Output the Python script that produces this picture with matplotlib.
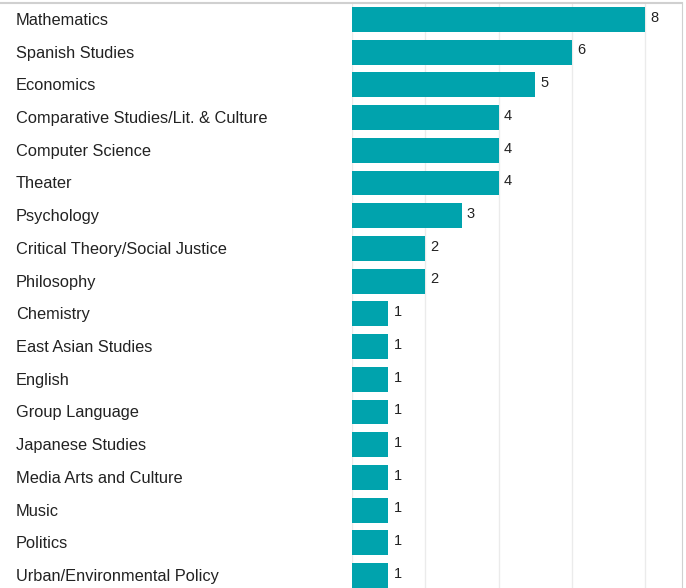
import matplotlib.pyplot as plt
import matplotlib.transforms as mtransforms

majors = ["Mathematics", "Spanish Studies", "Economics",
          "Comparative Studies/Lit. & Culture", "Computer Science", "Theater",
          "Psychology", "Critical Theory/Social Justice", "Philosophy",
          "Chemistry", "East Asian Studies", "English", "Group Language",
          "Japanese Studies", "Media Arts and Culture", "Music", "Politics",
          "Urban/Environmental Policy"]
counts = [8, 6, 5, 4, 4, 4, 3, 2, 2, 1, 1, 1, 1, 1, 1, 1, 1, 1]

plt.rcParams['font.family'] = ['Liberation Sans', 'DejaVu Sans']

fig = plt.figure(figsize=(6.86, 5.88), dpi=100)
# plot area: from x=351.7px to 682px, top at 3px, runs off the bottom edge
ax = fig.add_axes([351.7/686, 0, (682-351.7)/686, (588-3)/588])

y = list(range(len(majors)))
ax.barh(y, counts, height=0.76, color="#00a3ad", zorder=2)

# value labels just right of each bar
for yi, c in zip(y, counts):
    ax.text(c + 0.14, yi - 0.05, str(c), va="center", ha="left",
            fontsize=10.5, color="#222222")

# category names left-aligned near the figure's left edge
label_tr = mtransforms.blended_transform_factory(fig.transFigure, ax.transData)
for yi, name in zip(y, majors):
    ax.text(16/686, yi + 0.03, name, transform=label_tr, ha="left",
            va="center", fontsize=11.8, color="#222222")

ax.set_xlim(0, 9)
ax.set_ylim(17.38, -0.5)
ax.set_xticks([0, 2, 4, 6, 8])
ax.grid(axis="x", color="#ebebeb", linewidth=1, zorder=0)
ax.tick_params(left=False, bottom=False, labelleft=False, labelbottom=False)

for s in ["left", "bottom", "top"]:
    ax.spines[s].set_visible(False)
ax.spines["right"].set_color("#d0d0d0")

# grey rule across the full width at the top
fig.add_artist(plt.Line2D([0, 682/686], [585/588, 585/588], color="#d0d0d0",
                          linewidth=1.5, transform=fig.transFigure))

fig.savefig("out.png", dpi=100)
